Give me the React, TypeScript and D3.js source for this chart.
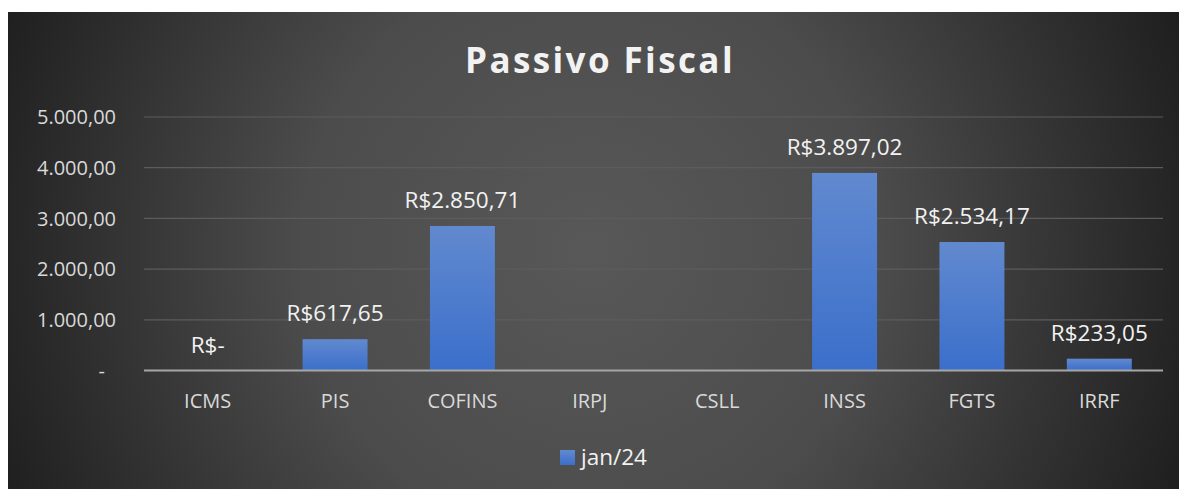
import React from "react";
import * as d3 from "d3";

const categories = ["ICMS", "PIS", "COFINS", "IRPJ", "CSLL", "INSS", "FGTS", "IRRF"];
const values = [0, 617.65, 2850.71, null, null, 3897.02, 2534.17, 233.05];
const dataLabels = ["R$-", "R$617,65", "R$2.850,71", "", "", "R$3.897,02", "R$2.534,17", "R$233,05"];
const yTicks = [0, 1000, 2000, 3000, 4000, 5000];
const yTickLabels = ["-", "1.000,00", "2.000,00", "3.000,00", "4.000,00", "5.000,00"];
const seriesName = "jan/24";
const title = "Passivo Fiscal";

const W = 1179;
const H = 489;
const FONT = "'Open Sans', sans-serif";

export default function App() {
  const x = d3.scaleBand<string>().domain(categories).range([144, 1163]).paddingInner(0.49).paddingOuter(0.245);
  const y = d3.scaleLinear().domain([0, 5000]).range([370.5, 117]);
  const band = (1163 - 144) / categories.length;
  const bw = band * 0.51;

  return (
    <div style={{ position: "absolute", left: 0, top: 0, width: W, height: H, background: "#fff" }}>
      <svg width={W} height={H} style={{ display: "block" }}>
        <defs>
          <radialGradient id="bg" cx="590" cy="250" r="640" gradientUnits="userSpaceOnUse">
            <stop offset="0" stopColor="#585858" />
            <stop offset="0.45" stopColor="#4c4c4c" />
            <stop offset="1" stopColor="#1e1e1e" />
          </radialGradient>
          <linearGradient id="bar" x1="0" y1="0" x2="0" y2="1">
            <stop offset="0" stopColor="#6189cf" />
            <stop offset="1" stopColor="#3b6fcb" />
          </linearGradient>
        </defs>
        <rect x={8} y={12} width={W - 8} height={H - 12} fill="url(#bg)" />
        <text x={600} y={73} textAnchor="middle" fill="#f2f2f2" fontFamily={FONT} fontWeight="bold" fontSize={35} letterSpacing={2.4}>
          {title}
        </text>
        {yTicks.map((t, i) => (
          <g key={t}>
            {t !== 0 && <line x1={144} x2={1163} y1={y(t)} y2={y(t)} stroke="#5c5c5c" strokeWidth={1.2} />}
            <text
              x={t === 0 ? 105 : 116}
              y={y(t)}
              dy="0.36em"
              textAnchor="end"
              fill="#d9d9d9"
              fontFamily={FONT}
              fontSize={20}
            >
              {yTickLabels[i]}
            </text>
          </g>
        ))}
        {categories.map((c, i) => {
          const v = values[i];
          const cx = (x(c) as number) + x.bandwidth() / 2;
          return (
            <g key={c}>
              {v !== null && v > 0 && (
                <rect x={cx - bw / 2} y={y(v)} width={bw} height={y(0) - y(v)} fill="url(#bar)" />
              )}
              {v !== null && (
                <text x={cx} y={y(v) - 18} textAnchor="middle" fill="#f2f2f2" fontFamily={FONT} fontSize={22.5}>
                  {dataLabels[i]}
                </text>
              )}
              <text x={cx} y={408} textAnchor="middle" fill="#d9d9d9" fontFamily={FONT} fontSize={20}>
                {c}
              </text>
            </g>
          );
        })}
        <line x1={144} x2={1163} y1={y(0)} y2={y(0)} stroke="#a6a6a6" strokeWidth={2} />
        <rect x={560} y={450} width={15} height={15} fill="url(#bar)" />
        <text x={581} y={465} fill="#f2f2f2" fontFamily={FONT} fontSize={22.5}>
          {seriesName}
        </text>
      </svg>
    </div>
  );
}
